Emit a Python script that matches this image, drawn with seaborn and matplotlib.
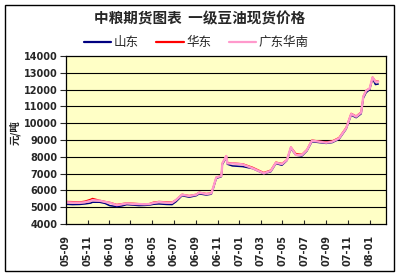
import matplotlib
matplotlib.use("Agg")
import matplotlib.pyplot as plt
import matplotlib.dates as mdates
from matplotlib.patches import Rectangle
import seaborn as sns
import pandas as pd

dates = ["2005-09-01", "2005-09-20", "2005-10-10", "2005-10-25", "2005-11-10", "2005-11-15",
         "2005-12-05", "2005-12-20", "2006-01-02", "2006-01-22", "2006-02-05", "2006-02-19",
         "2006-03-10", "2006-03-25", "2006-04-10", "2006-04-23", "2006-05-05", "2006-05-20",
         "2006-06-10", "2006-06-26", "2006-07-07", "2006-07-24", "2006-08-13", "2006-09-02",
         "2006-09-10", "2006-09-30", "2006-10-14", "2006-10-20", "2006-10-28", "2006-11-11",
         "2006-11-14", "2006-11-25", "2006-11-28", "2006-12-12", "2007-01-10", "2007-02-07",
         "2007-03-10", "2007-03-30", "2007-04-13", "2007-04-30", "2007-05-14", "2007-05-25",
         "2007-06-08", "2007-06-25", "2007-07-09", "2007-07-23", "2007-08-12", "2007-09-01",
         "2007-09-18", "2007-10-07", "2007-10-27", "2007-11-10", "2007-11-24", "2007-12-08",
         "2007-12-14", "2007-12-22", "2008-01-01", "2008-01-09", "2008-01-17", "2008-01-25"]

shandong = [5180, 5160, 5170, 5200, 5250, 5300, 5300, 5230, 5100, 5040, 5080, 5160,
            5130, 5100, 5110, 5130, 5180, 5200, 5170, 5160, 5330, 5690, 5600, 5690,
            5800, 5730, 5780, 6150, 6720, 6820, 7550, 7950, 7560, 7460, 7420, 7300,
            7000, 7120, 7600, 7500, 7780, 8500, 8100, 8050, 8350, 8900, 8850, 8800,
            8850, 9050, 9650, 10480, 10330, 10560, 11480, 11820, 12000, 12650, 12300, 12330]

huadong = [5340, 5330, 5310, 5360, 5470, 5520, 5410, 5340, 5290, 5160, 5210, 5250,
           5230, 5210, 5200, 5210, 5300, 5340, 5320, 5300, 5440, 5770, 5690, 5770,
           5890, 5810, 5850, 6230, 6790, 6870, 7620, 8060, 7660, 7630, 7580, 7370,
           7060, 7210, 7680, 7600, 7830, 8580, 8190, 8140, 8430, 8990, 8930, 8880,
           8940, 9140, 9740, 10580, 10420, 10660, 11600, 11950, 12080, 12740, 12500, 12500]

guangdong = [5300, 5280, 5270, 5300, 5380, 5420, 5390, 5320, 5270, 5130, 5180, 5230,
             5200, 5190, 5180, 5190, 5260, 5310, 5280, 5270, 5430, 5750, 5670, 5750,
             5870, 5790, 5830, 6220, 6780, 6860, 7610, 8050, 7610, 7610, 7550, 7320,
             7020, 7170, 7650, 7570, 7810, 8570, 8110, 8110, 8400, 8960, 8900, 8840,
             8900, 9100, 9700, 10550, 10390, 10630, 11580, 11930, 12070, 12730, 12470, 12470]

series_names = ["山东", "华东", "广东华南"]
series_colors = ["#000080", "#ff0000", "#ff99cc"]
series_widths = [1.1, 1.1, 1.7]

title_text = "中粮期货图表  一级豆油现货价格"
ylabel_text = "元/吨"
yticks = list(range(4000, 14001, 1000))

sns.set_style("white")
plt.rcParams["font.family"] = ["Noto Sans CJK SC", "DejaVu Sans"]

frames = []
for name, vals in zip(series_names, [shandong, huadong, guangdong]):
    frames.append(pd.DataFrame({"date": pd.to_datetime(dates), "price": vals, "region": name}))
df = pd.concat(frames, ignore_index=True)

fig = plt.figure(figsize=(4.01, 2.77), dpi=100)
fig.patch.set_facecolor("white")
fig.patches.append(Rectangle((0.0125, 0.0217), 0.970, 0.960, transform=fig.transFigure,
                             fill=False, edgecolor="black", linewidth=1.0))

ax = fig.add_axes([0.164, 0.191, 0.798, 0.607])
ax.set_facecolor("#ffffc6")

for name, color, lw in zip(series_names, series_colors, series_widths):
    sns.lineplot(data=df[df["region"] == name], x="date", y="price", color=color,
                 linewidth=lw, ax=ax, label=name, legend=False)

ax.set_xlim(pd.Timestamp("2005-09-01"), pd.Timestamp("2008-02-15"))
ax.set_ylim(4000, 14000)
ax.set_yticks(yticks)
for yv in yticks[1:-1]:
    ax.axhline(yv, color="black", linewidth=0.8, zorder=0.5)

ax.xaxis.set_major_locator(mdates.MonthLocator(bymonth=[1, 3, 5, 7, 9, 11]))
ax.xaxis.set_major_formatter(mdates.DateFormatter("%y-%m"))
ax.tick_params(axis="x", direction="in", length=3, width=0.8, pad=8, labelsize=7,
               labelrotation=90, bottom=True)
ax.tick_params(axis="y", direction="out", length=4, width=0.8, pad=2, labelsize=7, left=True)
for lab in ax.get_xticklabels() + ax.get_yticklabels():
    lab.set_fontfamily("DejaVu Sans")
    lab.set_fontweight("bold")

for sp in ax.spines.values():
    sp.set_color("black")
    sp.set_linewidth(0.9)

ax.set_xlabel("")
ax.set_ylabel("")
fig.text(0.038, 0.52, ylabel_text, rotation=90, ha="center", va="center",
         fontsize=7.5, fontweight="bold")

fig.text(0.497, 0.933, title_text, ha="center", va="center", fontsize=10.5, fontweight="bold")

handles, labels = ax.get_legend_handles_labels()
leg = fig.legend(handles, labels, loc="center", bbox_to_anchor=(0.49, 0.845), ncol=3,
                 frameon=False, fontsize=9, handlelength=2.2, handletextpad=0.2,
                 columnspacing=1.4, borderaxespad=0)
for h in leg.get_lines():
    h.set_linewidth(1.6)

fig.savefig("out.png", dpi=100)
